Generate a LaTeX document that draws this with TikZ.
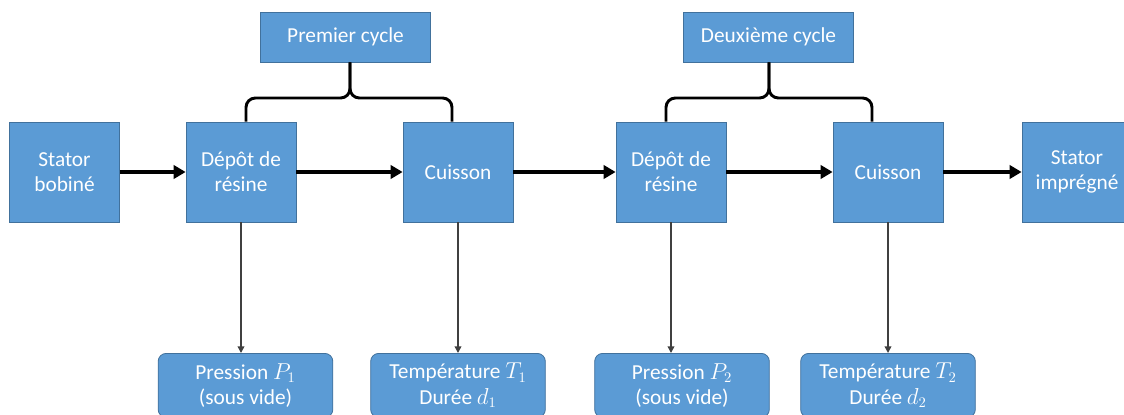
\documentclass[tikz,border=0pt]{standalone}
\usepackage{fontspec}
\setmainfont{Carlito}
\usepackage{xcolor}
\usetikzlibrary{arrows.meta,positioning,calc}
\definecolor{boxblue}{HTML}{5B9BD5}
\definecolor{boxline}{HTML}{41719C}

\begin{document}
\begin{tikzpicture}[
  x=0.75pt, y=-0.75pt,
  font=\fontsize{16}{19}\selectfont,
  stepbox/.style={draw=boxline,fill=boxblue,text=white,align=center,line width=0.6pt,minimum width=82.5pt,minimum height=75pt,inner sep=2pt},
  cyclebox/.style={stepbox,minimum width=128pt,minimum height=37.5pt},
  parambox/.style={draw=boxline,fill=boxblue,text=white,align=center,line width=0.6pt,rounded corners=6pt,minimum width=131pt,minimum height=48pt,anchor=north},
  flow/.style={line width=3pt,-{Triangle[length=9pt,width=10pt]}},
  param/.style={line width=1.1pt,draw=black!75,-{Triangle[length=5pt,width=5pt]}},
  brace/.style={line width=2.2pt,rounded corners=7pt}
]
\useasboundingbox (0,0) rectangle (1124,414);
\fill[white] (0,0) rectangle (1124,414);
\clip (0,0) rectangle (1124,414);

% main chain
\node[stepbox] (S0) at (64.5,172) {Stator\\bobiné};
\node[stepbox] (D1) at (241,172) {Dépôt de\\résine};
\node[stepbox] (C1) at (458,172) {Cuisson};
\node[stepbox] (D2) at (671,172) {Dépôt de\\résine};
\node[stepbox] (C2) at (888,172) {Cuisson};
\node[stepbox] (S3) at (1077,172) {Stator\\imprégné};

\draw[flow] (S0) -- (D1);
\draw[flow] (D1) -- (C1);
\draw[flow] (C1) -- (D2);
\draw[flow] (D2) -- (C2);
\draw[flow] (C2) -- (S3);

% cycles
\node[cyclebox] (T1) at (345.5,37) {Premier cycle};
\node[cyclebox] (T2) at (768.5,37) {Deuxième cycle};
\coordinate (K1) at (350,98);
\coordinate (K2) at (769,98);
\draw[brace] ($(D1.north)+(5,0)$) |- (K1) -- (K1 |- T1.south);
\draw[brace] ($(C1.north)+(-6,0)$) |- (K1) -- (K1 |- T1.south);
\draw[brace] ($(D2.north)+(-5,0)$) |- (K2) -- (K2 |- T2.south);
\draw[brace] ($(C2.north)+(-16,0)$) |- (K2) -- (K2 |- T2.south);

% parameters
\node[parambox] (B1) at (245.5,353) {Pression $P_1$\\(sous vide)};
\node[parambox] (B2) at (458,353) {Température $T_1$\\Durée $d_1$};
\node[parambox] (B3) at (682,353) {Pression $P_2$\\(sous vide)};
\node[parambox] (B4) at (888,353) {Température $T_2$\\Durée $d_2$};

\draw[param] (D1.south) -- (D1.south |- B1.north);
\draw[param] (C1.south) -- (C1.south |- B2.north);
\draw[param] (D2.south) -- (D2.south |- B3.north);
\draw[param] (C2.south) -- (C2.south |- B4.north);
\end{tikzpicture}
\end{document}
